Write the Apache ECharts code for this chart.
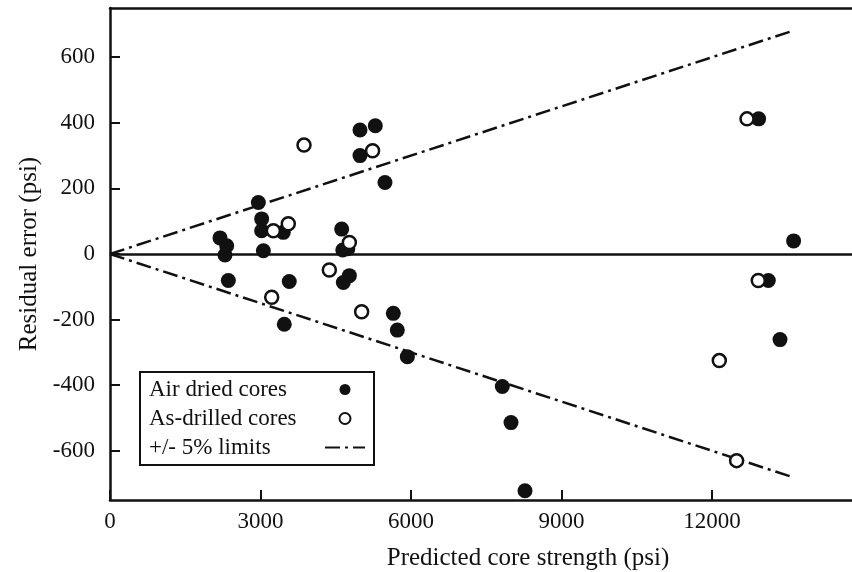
<!DOCTYPE html>
<html>
<head>
<meta charset="utf-8">
<script src="https://cdn.jsdelivr.net/npm/echarts@6/dist/echarts.min.js"></script>
<style>
  html, body { margin: 0; padding: 0; background: #fff; }
  #chart { width: 852px; height: 572px; }
</style>
</head>
<body>
<div id="chart"></div>
<script>
// air dried cores (filled dots): [predicted strength, residual]
const airDried = [
  [2193, 49], [2326, 25], [2292, -3], [2359, -81],
  [2957, 157], [3023, 107], [3023, 71], [3057, 10], [3454, 66],
  [3573, -84], [3474, -214],
  [4618, 76], [4640, 12], [4740, 16], [4771, -66], [4651, -87],
  [4983, 378], [5288, 391], [4983, 300], [5481, 218],
  [5647, -181], [5727, -232], [5927, -313],
  [7820, -404], [7993, -514], [8272, -722],
  [12929, 412], [13626, 40], [13122, -81], [13355, -261]
];
// as-drilled cores (open circles)
const asDrilled = [
  [3867, 332], [5234, 315], [3256, 71], [3554, 92], [4771, 35],
  [4372, -49], [3223, -132], [5016, -176],
  [12697, 412], [12922, -81], [12145, -325], [12490, -630]
];
// +/- 5% limit lines
const limitX = [0, 13600];
const upperLimit = [0, 680];
const lowerLimit = [0, -680];

const xTicks = [0, 3000, 6000, 9000, 12000];
const yTicks = [-600, -400, -200, 0, 200, 400, 600];

const serif = 'Liberation Serif';
const ink = '#111';

const chart = echarts.init(document.getElementById('chart'));

const option = {
  backgroundColor: '#fff',
  animation: false,
  grid: { left: 110, right: 0, top: 8, bottom: 72, outerBoundsMode: 'none' },
  legend: {
    data: [
      { name: 'Air dried cores' },
      { name: 'As-drilled cores' },
      { name: '+/- 5% limits', itemStyle: { opacity: 0 } }
    ],
    orient: 'vertical',
    align: 'right',
    left: 140,
    top: 372,
    padding: [6, 8, 6, 9],
    itemGap: 6,
    itemWidth: 40,
    itemHeight: 11,
    borderColor: ink,
    borderWidth: 2,
    backgroundColor: '#fff',
    formatter: name => '{t|' + name + '}',
    textStyle: {
      fontFamily: serif,
      fontSize: 23,
      color: ink,
      rich: {
        t: { width: 171, align: 'left', fontFamily: serif, fontSize: 23, lineHeight: 26, color: ink }
      }
    }
  },
  xAxis: [
    {
      type: 'value',
      min: 0,
      max: 14790,
      name: 'Predicted core strength (psi)',
      nameLocation: 'middle',
      nameGap: 46,
      nameTextStyle: { fontFamily: serif, fontSize: 25, color: ink, padding: [0, 0, 0, 94] },
      axisLine: { onZero: false, lineStyle: { color: ink, width: 2.5 } },
      axisTick: { inside: true, length: 10, customValues: xTicks, lineStyle: { color: ink, width: 2 } },
      axisLabel: {
        customValues: xTicks,
        formatter: v => String(v),
        margin: 10, fontFamily: serif, fontSize: 23, color: ink
      },
      splitLine: { show: false }
    },
    {
      type: 'value',
      position: 'top',
      min: 0,
      max: 14790,
      axisLine: { onZero: false, lineStyle: { color: ink, width: 2.5 } },
      axisTick: { show: false },
      axisLabel: { show: false },
      splitLine: { show: false }
    }
  ],
  yAxis: {
    type: 'value',
    min: -750,
    max: 750,
    name: 'Residual error (psi)',
    nameLocation: 'middle',
    nameRotate: 90,
    nameGap: 68,
    nameTextStyle: { fontFamily: serif, fontSize: 25, color: ink },
    axisLine: { onZero: false, lineStyle: { color: ink, width: 2.5 } },
    axisTick: { inside: true, length: 10, customValues: yTicks, lineStyle: { color: ink, width: 2 } },
    axisLabel: {
      customValues: yTicks,
      formatter: v => String(v),
      margin: 15, fontFamily: serif, fontSize: 23, color: ink
    },
    splitLine: { show: false }
  },
  series: [
    {
      name: 'zero',
      type: 'line',
      data: [],
      z: 1,
      markLine: {
        silent: true,
        symbol: 'none',
        label: { show: false },
        lineStyle: { color: ink, width: 2.5, type: 'solid' },
        data: [{ yAxis: 0 }]
      }
    },
    {
      name: '+/- 5% limits',
      type: 'line',
      symbol: 'none',
      z: 2,
      data: limitX.map((x, i) => [x, upperLimit[i]]),
      itemStyle: { color: ink },
      lineStyle: { color: ink, width: 2.5, type: [15, 5, 3, 5] }
    },
    {
      name: '+/- 5% limits',
      type: 'line',
      symbol: 'none',
      z: 2,
      data: limitX.map((x, i) => [x, lowerLimit[i]]),
      itemStyle: { color: ink },
      lineStyle: { color: ink, width: 2.5, type: [15, 5, 3, 5] }
    },
    {
      name: 'Air dried cores',
      type: 'scatter',
      symbol: 'circle',
      symbolSize: 15,
      z: 3,
      data: airDried,
      itemStyle: { color: ink, opacity: 1 }
    },
    {
      name: 'As-drilled cores',
      type: 'scatter',
      symbol: 'circle',
      symbolSize: 13,
      z: 4,
      data: asDrilled,
      itemStyle: { color: '#fff', borderColor: ink, borderWidth: 2.5, opacity: 1 }
    }
  ]
};

chart.setOption(option);
</script>
</body>
</html>
